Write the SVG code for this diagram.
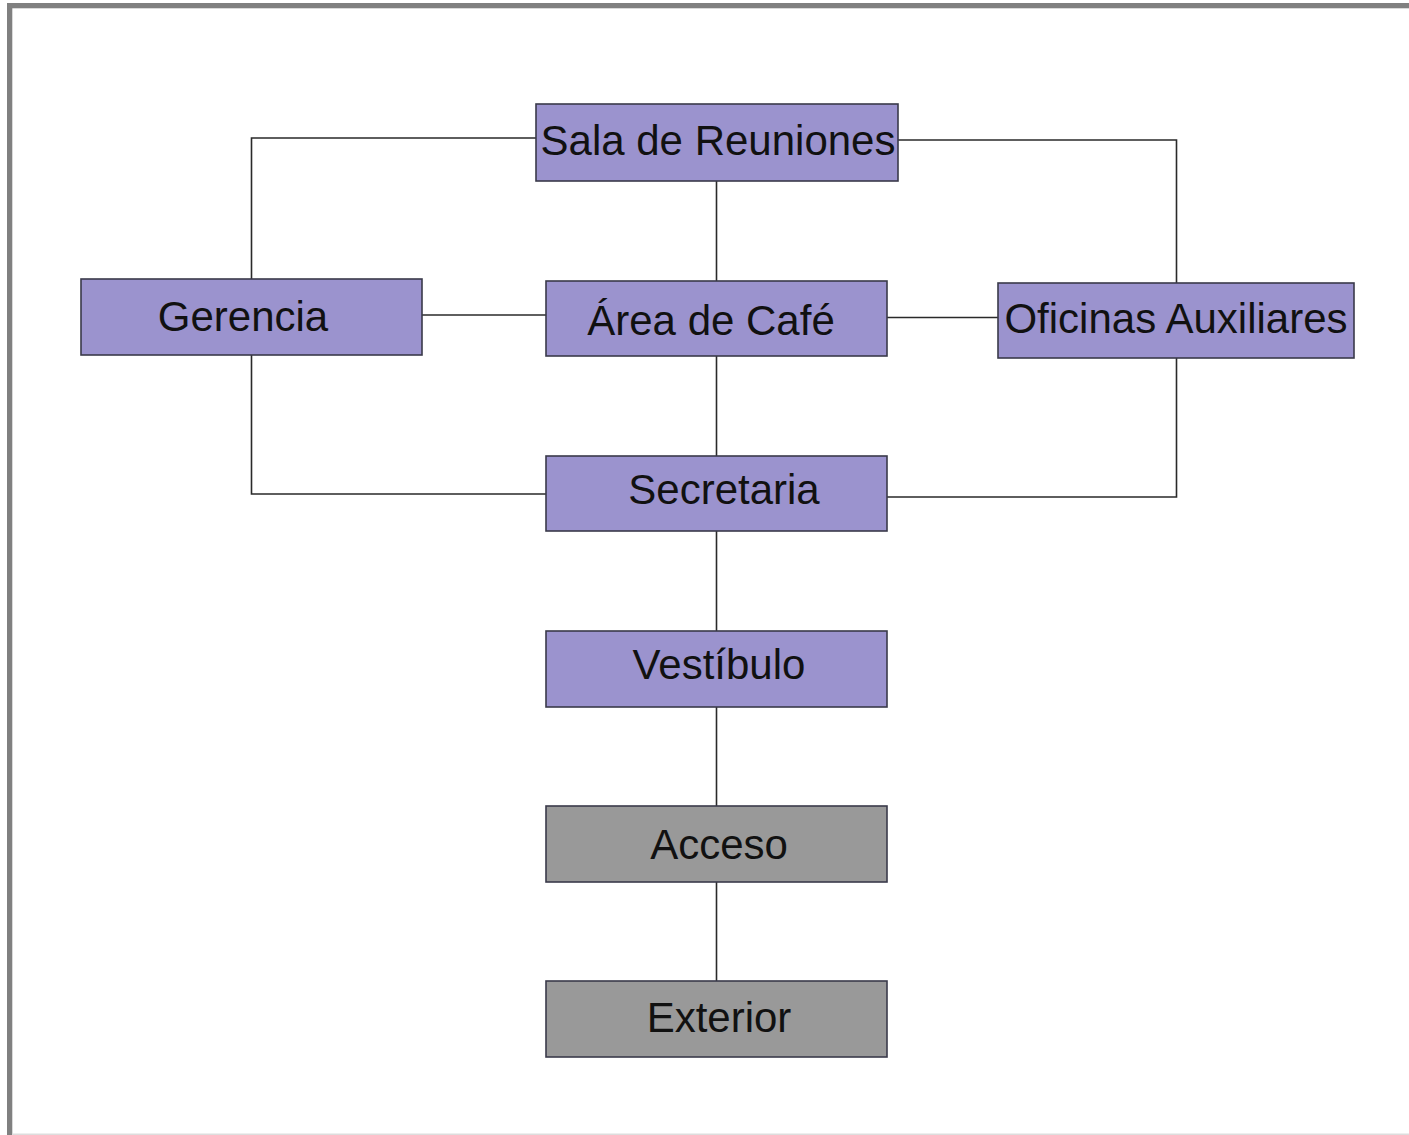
<svg xmlns="http://www.w3.org/2000/svg" width="1409" height="1135" viewBox="0 0 1409 1135">
<style>
.node rect{stroke:#3a3a4a;stroke-width:1.6}
.p rect{fill:#9b93ce}
.g rect{fill:#999999}
.node text{font-family:"Liberation Sans",Arial,sans-serif;font-size:42px;fill:#111;text-anchor:middle}
#connectors path{fill:none;stroke:#2a2a2a;stroke-width:1.6}
</style>
<rect width="1409" height="1135" fill="#ffffff"/>
<rect x="7" y="3" width="1402" height="5.3" fill="#808080"/>
<rect x="7" y="3" width="5.3" height="1132" fill="#808080"/>
<rect x="12" y="1133.5" width="1397" height="1.5" fill="#dddddd"/>
<g id="connectors">
<path d="M536,138 H251.5 V279"/>
<path d="M898,140 H1176.5 V283"/>
<path d="M716.5,181 V281"/>
<path d="M422,315 H546"/>
<path d="M887,317.5 H998"/>
<path d="M716.5,356 V456"/>
<path d="M251.5,355 V494 H546"/>
<path d="M1176.5,358 V497 H887"/>
<path d="M716.5,531 V631"/>
<path d="M716.5,707 V806"/>
<path d="M716.5,882 V981"/>
</g>
<g id="sala" class="node p"><rect x="536" y="104" width="362" height="77"/><text x="718" y="155">Sala de Reuniones</text></g>
<g id="gerencia" class="node p"><rect x="81" y="279" width="341" height="76"/><text x="243" y="331">Gerencia</text></g>
<g id="cafe" class="node p"><rect x="546" y="281" width="341" height="75"/><text x="711" y="335">Área de Café</text></g>
<g id="oficinas" class="node p"><rect x="998" y="283" width="356" height="75"/><text x="1176" y="333">Oficinas Auxiliares</text></g>
<g id="secretaria" class="node p"><rect x="546" y="456" width="341" height="75"/><text x="724" y="504">Secretaria</text></g>
<g id="vestibulo" class="node p"><rect x="546" y="631" width="341" height="76"/><text x="719" y="679">Vestíbulo</text></g>
<g id="acceso" class="node g"><rect x="546" y="806" width="341" height="76"/><text x="719" y="859">Acceso</text></g>
<g id="exterior" class="node g"><rect x="546" y="981" width="341" height="76"/><text x="719" y="1032">Exterior</text></g>
</svg>
